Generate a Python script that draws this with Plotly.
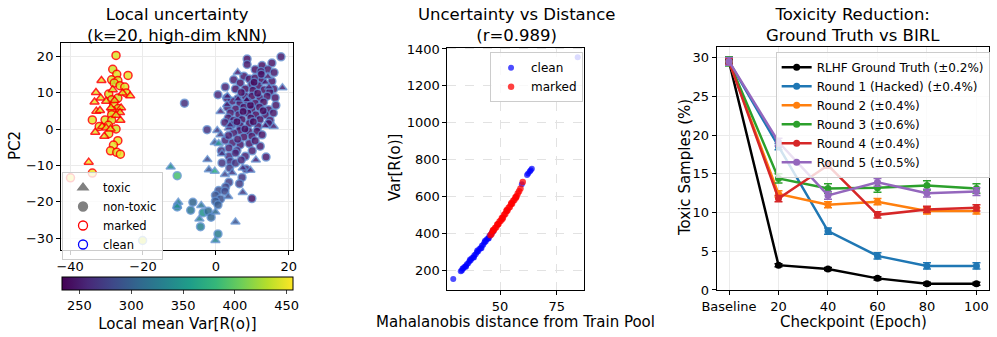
import plotly.graph_objects as go

FONT = "DejaVu Sans"

# ---- panel 1: PCA scatter, coloured by local mean Var[R(o)] ----
marked_circ_x = [-27.4, -28.3, -27.2, -24.1, -28.6, -26.9, -27.9, -26.3, -25.0, -24.6, -29.4, -28.6, -26.9, -28.0, -26.8, -28.5,
                 -28.6, -33.9, -30.4, -28.6, -32.0, -29.5, -27.4, -29.4, -26.9, -28.1, -28.9, -27.2, -26.2, -33.9, -39.9]
marked_circ_y = [20.2, 16.4, 15.0, 14.7, 13.5, 13.3, 12.6, 11.9, 11.5, 9.9, 9.6, 8.0, 8.5, 6.6, 5.6, 5.1,
                 3.9, 2.5, 2.5, 2.4, 0.7, 1.0, 0.0, -1.3, -3.2, -4.4, -6.0, -6.4, -6.9, -12.1, -13.4]
marked_circ_c = [445, 440, 445, 448, 442, 446, 440, 444, 447, 445, 443, 438, 441, 445, 440, 444,
                 446, 448, 445, 442, 447, 444, 441, 446, 449, 447, 448, 446, 450, 450, 452]

marked_tri_x = [-31.4, -32.9, -31.6, -33.3, -30.1, -23.5, -25.6, -32.8, -31.8, -28.8, -26.0, -26.3, -26.2, -31.2, -30.1,
                -33.1, -28.9, -30.6, -34.9, -28.3, -27.8, -27.4]
marked_tri_y = [13.3, 10.0, 8.5, 7.4, 7.6, 9.1, 9.9, 4.9, 5.1, 5.8, 5.8, 4.5, 2.4, 0.7, 0.3,
                -0.9, 0.0, -2.0, -9.1, 10.8, 7.8, 3.8]
marked_tri_c = [446, 448, 447, 449, 445, 450, 446, 448, 447, 443, 444, 445, 446, 447, 446,
                449, 444, 448, 452, 441, 442, 443]

clean_circ_x = [8.6, 8.6, 12.7, 15.4, 17.9, 10.8, 14.3, 12.4, 7.7, 9.2, 10.8, 12.7, 15.4, 4.9, 6.7, 9.9, 11.7, 15.9,
                2.6, 5.4, 8.1, 10.2, 13.3, 14.8, 0.6, 6.0, 8.1, 9.9, 12.1, 14.1, 16.3, 4.5, 6.6, 8.7, 10.8, 13.1,
                -8.6, 3.2, 5.4, 7.7, 9.9, 12.0, 14.5, 4.0, 6.3, 8.8, 11.0, 13.6, 15.8, 3.4, 4.9, 7.2, 9.6, 12.1,
                14.9, 2.5, 4.5, 6.7, 9.2, 11.6, 6.5, 9.0, 11.3, -2.4, 4.9, 7.7, 9.9, 12.7, 2.6, 4.6, 6.7, 9.2,
                12.2, 3.6, 5.8, 3.6, 5.4, 8.1, 13.8, 4.0, 1.7, 3.8, 5.4, 8.3, 7.2, 3.6, 6.5, 2.7, 0.8, 2.5,
                9.9, -0.1, 1.3, -0.1, 0.6, -6.3, -10.6, -10.6, -6.9, -3.5, -2.1, -1.3, -4.2, 0.6, -20.1,
                10.5, 7.0, 11.5, 3.0, 9.5, 13.0, 7.5, 10.3, 5.8, 8.0, 3.5, 10.8, 6.0, 1.5, 7.0, 10.0, 14.5,
                16.5, 12.5, 16.0]
clean_circ_y = [19.2, 17.7, 17.4, 18.1, 19.8, 16.3, 16.3, 15.8, 14.5, 13.7, 14.0, 13.5, 13.1, 13.5, 12.6, 12.2, 11.9, 11.0,
                11.5, 11.0, 11.0, 10.6, 10.8, 10.2, 9.4, 8.3, 9.0, 9.0, 8.5, 9.0, 8.6, 7.6, 7.1, 7.6, 7.1, 7.4,
                7.1, 6.0, 5.5, 6.0, 5.5, 6.0, 5.3, 4.4, 3.9, 4.4, 3.9, 3.9, 4.4, 3.0, 2.4, 2.6, 3.0, 2.6,
                2.4, 1.8, 1.2, 0.9, 1.5, 0.7, -0.4, -0.6, -0.6, -0.2, -1.1, -2.2, -2.0, -1.6, -3.1, -3.8, -4.3, -4.0,
                -4.7, -5.2, -5.9, -7.5, -6.6, -7.5, -7.7, -8.9, -9.3, -10.7, -9.3, -11.0, -13.3, -14.6, -15.0, -15.9, -16.9, -17.1,
                -19.1, -18.2, -19.2, -19.8, -20.8, -20.1, -12.8, -21.4, -22.3, -23.0, -22.6, -24.2, -26.8, -28.8, -30.6,
                12.8, 10.0, 9.8, 8.5, 6.5, 5.0, 4.8, 2.0, 2.0, 0.0, -1.8, -3.2, -2.8, -6.0, -8.5, -6.0, 1.5,
                6.5, 15.0, 15.5]
clean_circ_c = [245, 248, 243, 246, 250, 244, 247, 242, 249, 241, 243, 240, 246, 252, 245, 240, 241, 248,
                255, 246, 240, 239, 242, 245, 258, 243, 239, 238, 241, 244, 247, 248, 241, 238, 239, 242,
                262, 250, 243, 239, 238, 240, 245, 247, 241, 238, 239, 243, 248, 249, 244, 240, 238, 241,
                246, 252, 246, 241, 239, 242, 243, 241, 244, 265, 248, 244, 243, 246, 255, 250, 247, 246,
                250, 256, 252, 258, 254, 252, 250, 262, 268, 270, 265, 262, 268, 275, 272, 280, 285, 282,
                245, 290, 288, 292, 295, 305, 390, 335, 320, 345, 310, 305, 330, 325, 440,
                240, 241, 239, 250, 238, 241, 239, 240, 242, 241, 252, 246, 248, 262, 258, 252, 247,
                249, 243, 248]

clean_tri_x = [13.6, 14.6, 18.3, 3.2, 1.3, 13.6, 15.9, 3.6, 0.4, 1.3, -0.3, 0.8, 1.7, -2.3, -1.9, -0.3, 2.5, 7.4,
               9.5, 7.4, 3.4, -12.4, -10.3, -10.6, -4.0, -0.1, -4.5, 5.4, -0.1, 8.5, 6.0, 11.0, 4.5, 14.3, 6.1,
               3.1, 3.9]
clean_tri_y = [12.8, 11.5, 11.3, 9.0, 4.8, 0.9, 0.7, 0.3, -0.4, -1.6, -3.7, -4.0, -6.8, -8.4, -11.2, -11.6, -12.5, -10.7,
               -11.3, -17.4, -18.5, -10.4, -20.1, -21.2, -21.0, -22.8, -24.7, -25.5, -30.6, 8.0, 15.5, -8.5, -12.0, 14.4, 8.2,
               6.7, 1.1]
clean_tri_c = [244, 246, 252, 252, 258, 246, 250, 254, 270, 272, 290, 345, 265, 280, 290, 375, 278, 262,
               258, 270, 285, 340, 330, 345, 320, 310, 330, 290, 335, 240, 246, 252, 268, 245, 242,
               250, 252]

cbar_ticks = [250, 300, 350, 400, 450]

# ---- panel 2: Var[R(o)] vs Mahalanobis distance ----
clean_dist = [29.4, 32.7, 33.2, 33.8, 34.3, 34.9, 35.4, 36.0, 36.5, 37.1, 37.6, 38.2, 38.7, 39.3, 39.8, 40.4, 40.9,
              41.5, 42.0, 42.6, 43.1, 43.7, 44.2, 44.8, 45.3, 45.9, 46.4, 47.0, 33.5, 35.0, 36.8, 38.5, 40.0,
              41.8, 43.4, 45.0, 59.6, 61.9, 62.4, 63.1, 63.5, 64.0, 84.2]
clean_var = [155, 196, 201, 211, 219, 225, 235, 240, 251, 256, 267, 272, 283, 288, 300, 305, 317,
             322, 334, 340, 352, 357, 370, 375, 388, 394, 406, 412, 212, 221, 260, 271, 309,
             321, 361, 374, 667, 718, 726, 737, 744, 752, 1355]
marked_dist = [45.8, 46.3, 46.8, 47.3, 47.8, 48.3, 48.8, 49.3, 49.8, 50.3, 50.8, 51.3, 51.8, 52.3, 52.8, 53.3, 53.8,
               54.3, 54.8, 55.3, 55.8, 56.3, 56.8, 57.3, 57.8, 58.4, 60.0, 47.0, 49.0, 51.0, 53.0, 55.0, 57.0, 59.0]
marked_var = [392, 400, 415, 418, 431, 435, 449, 452, 466, 470, 485, 488, 503, 506, 521, 525, 540,
              544, 559, 562, 578, 582, 597, 602, 617, 630, 680, 420, 450, 480, 528, 566, 595, 645]

# ---- panel 3: toxicity reduction ----
checkpoints = ["Baseline", "20", "40", "60", "80", "100"]
series_names = ["RLHF Ground Truth (±0.2%)", "Round 1 (Hacked) (±0.4%)", "Round 2 (±0.4%)",
                "Round 3 (±0.6%)", "Round 4 (±0.4%)", "Round 5 (±0.5%)"]
series_vals = [
    [29.5, 3.2, 2.7, 1.5, 0.8, 0.8],
    [29.5, 18.5, 7.6, 4.4, 3.1, 3.1],
    [29.5, 12.4, 11.0, 11.4, 10.2, 10.2],
    [29.5, 14.4, 13.1, 13.2, 13.5, 13.1],
    [29.5, 11.8, 16.1, 9.7, 10.4, 10.6],
    [29.5, 19.1, 12.2, 13.9, 12.5, 12.7],
]
series_err = [0.2, 0.4, 0.4, 0.6, 0.4, 0.5]
series_colors = ["#000000", "#1f77b4", "#ff7f0e", "#2ca02c", "#d62728", "#9467bd"]

fig = go.Figure()

clean_edge = "rgba(95,145,210,0.85)"
for xs, ys, cs, sym, edge in [
    (clean_circ_x, clean_circ_y, clean_circ_c, "circle", clean_edge),
    (clean_tri_x, clean_tri_y, clean_tri_c, "triangle-up", clean_edge),
    (marked_circ_x, marked_circ_y, marked_circ_c, "circle", "#ff0000"),
    (marked_tri_x, marked_tri_y, marked_tri_c, "triangle-up", "#ff0000"),
]:
    fig.add_trace(go.Scatter(x=xs, y=ys, mode="markers", xaxis="x", yaxis="y", showlegend=False,
                             marker=dict(symbol=sym, size=8, color=cs, coloraxis="coloraxis", opacity=0.85,
                                         line=dict(color=edge, width=1.5))))

# legend proxies for panel 1
for name, sym, col, fill in [("toxic", "triangle-up", "gray", "gray"), ("non-toxic", "circle", "gray", "gray"),
                             ("marked", "circle-open", "red", "red"), ("clean", "circle-open", "blue", "blue")]:
    fig.add_trace(go.Scatter(x=[None], y=[None], mode="markers", name=name, legend="legend", xaxis="x", yaxis="y",
                             marker=dict(symbol=sym, size=9, color=fill, line=dict(color=col, width=1.3))))

fig.add_trace(go.Scatter(x=clean_dist, y=clean_var, mode="markers", name="clean", legend="legend2",
                         xaxis="x2", yaxis="y2", marker=dict(color="blue", size=6, opacity=0.7)))
fig.add_trace(go.Scatter(x=marked_dist, y=marked_var, mode="markers", name="marked", legend="legend2",
                         xaxis="x2", yaxis="y2", marker=dict(color="red", size=6.5, opacity=0.75)))

for name, vals, err, col in zip(series_names, series_vals, series_err, series_colors):
    fig.add_trace(go.Scatter(x=checkpoints, y=vals, mode="lines+markers", name=name, legend="legend3",
                             xaxis="x3", yaxis="y3", line=dict(color=col, width=2.5),
                             marker=dict(color=col, size=7),
                             error_y=dict(type="constant", value=err, color=col, thickness=1.5, width=4)))

tick_font = dict(family=FONT, size=13, color="black")
axis_common = dict(showline=True, linecolor="black", linewidth=1, mirror=True, ticks="outside", ticklen=4,
                   tickcolor="black", tickfont=tick_font, zeroline=False, automargin=False)

fig.update_layout(
    width=997, height=337, margin=dict(l=0, r=0, t=0, b=0),
    paper_bgcolor="white", plot_bgcolor="white",
    font=dict(family=FONT, color="black"),
    xaxis=dict(domain=[0.0612, 0.2939], range=[-42.5, 21.2], tickvals=[-40, -20, 0, 20],
               showgrid=True, gridcolor="#ebebeb", **axis_common),
    yaxis=dict(domain=[0.2582, 0.8724], range=[-33.2, 23.6], tickvals=[-30, -20, -10, 0, 10, 20],
               showgrid=True, gridcolor="#ebebeb", **axis_common),
    xaxis2=dict(domain=[0.4487, 0.5858], range=[26.8, 87], tickvals=[50, 75], anchor="y2",
                showgrid=True, gridcolor="#e2e2e2", griddash="dash", **axis_common),
    yaxis2=dict(domain=[0.1395, 0.8585], range=[95, 1407], tickvals=[200, 400, 600, 800, 1000, 1200, 1400],
                anchor="x2", showgrid=True, gridcolor="#e2e2e2", griddash="dash", **axis_common),
    xaxis3=dict(domain=[0.7188, 0.9923], range=[-0.25, 5.26], type="category", anchor="y3",
                showgrid=True, gridcolor="#ebebeb", **axis_common),
    yaxis3=dict(domain=[0.1395, 0.8614], range=[0, 31.4], tickvals=[0, 5, 10, 15, 20, 25, 30], anchor="x3",
                showgrid=True, gridcolor="#ebebeb", **axis_common),
    coloraxis=dict(colorscale="Viridis", cmin=233, cmax=456,
                   colorbar=dict(orientation="h", x=0.1779, xanchor="center", y=0.178, yanchor="top",
                                 len=0.232, lenmode="fraction", thickness=13, xpad=0, ypad=0,
                                 outlinecolor="black", outlinewidth=1, tickvals=cbar_ticks, ticks="outside",
                                 ticklen=4, tickfont=tick_font,
                                 title=dict(text="Local mean Var[R(o)]", side="bottom",
                                            font=dict(family=FONT, size=15)))),
    legend=dict(x=0.0622, y=0.4896, xanchor="left", yanchor="top", bgcolor="rgba(255,255,255,0.8)",
                bordercolor="#cccccc", borderwidth=1, font=dict(family=FONT, size=11.5), tracegroupgap=0),
    legend2=dict(x=0.4915, y=0.8448, xanchor="left", yanchor="top", bgcolor="rgba(255,255,255,0.8)",
                 bordercolor="#cccccc", borderwidth=1, font=dict(family=FONT, size=12)),
    legend3=dict(x=0.778, y=0.8466, xanchor="left", yanchor="top", bgcolor="rgba(255,255,255,0.8)",
                 bordercolor="#cccccc", borderwidth=1, font=dict(family=FONT, size=12)),
)

title_font = dict(family=FONT, size=16.5, color="black")
label_font = dict(family=FONT, size=15, color="black")
annotations = [
    (177, 25, "Local uncertainty<br>(k=20, high-dim kNN)", title_font, 0),
    (516, 25, "Uncertainty vs Distance<br>(r=0.989)", title_font, 0),
    (853, 25, "Toxicity Reduction:<br>Ground Truth vs BIRL", title_font, 0),
    (15, 146, "PC2", label_font, -90),
    (395, 168, "Var[R(o)]", label_font, -90), (515, 322, "Mahalanobis distance from Train Pool", label_font, 0),
    (685, 168, "Toxic Samples (%)", label_font, -90), (853, 322, "Checkpoint (Epoch)", label_font, 0),
]
for px, py, text, f, ang in annotations:
    fig.add_annotation(x=px / 997, y=1 - py / 337, xref="paper", yref="paper", text=text, showarrow=False,
                       font=f, textangle=ang, xanchor="center", yanchor="middle")

fig.write_html("out.html", config={"displayModeBar": False},
               post_script="document.body.style.margin='0';document.body.style.overflow='hidden';")
